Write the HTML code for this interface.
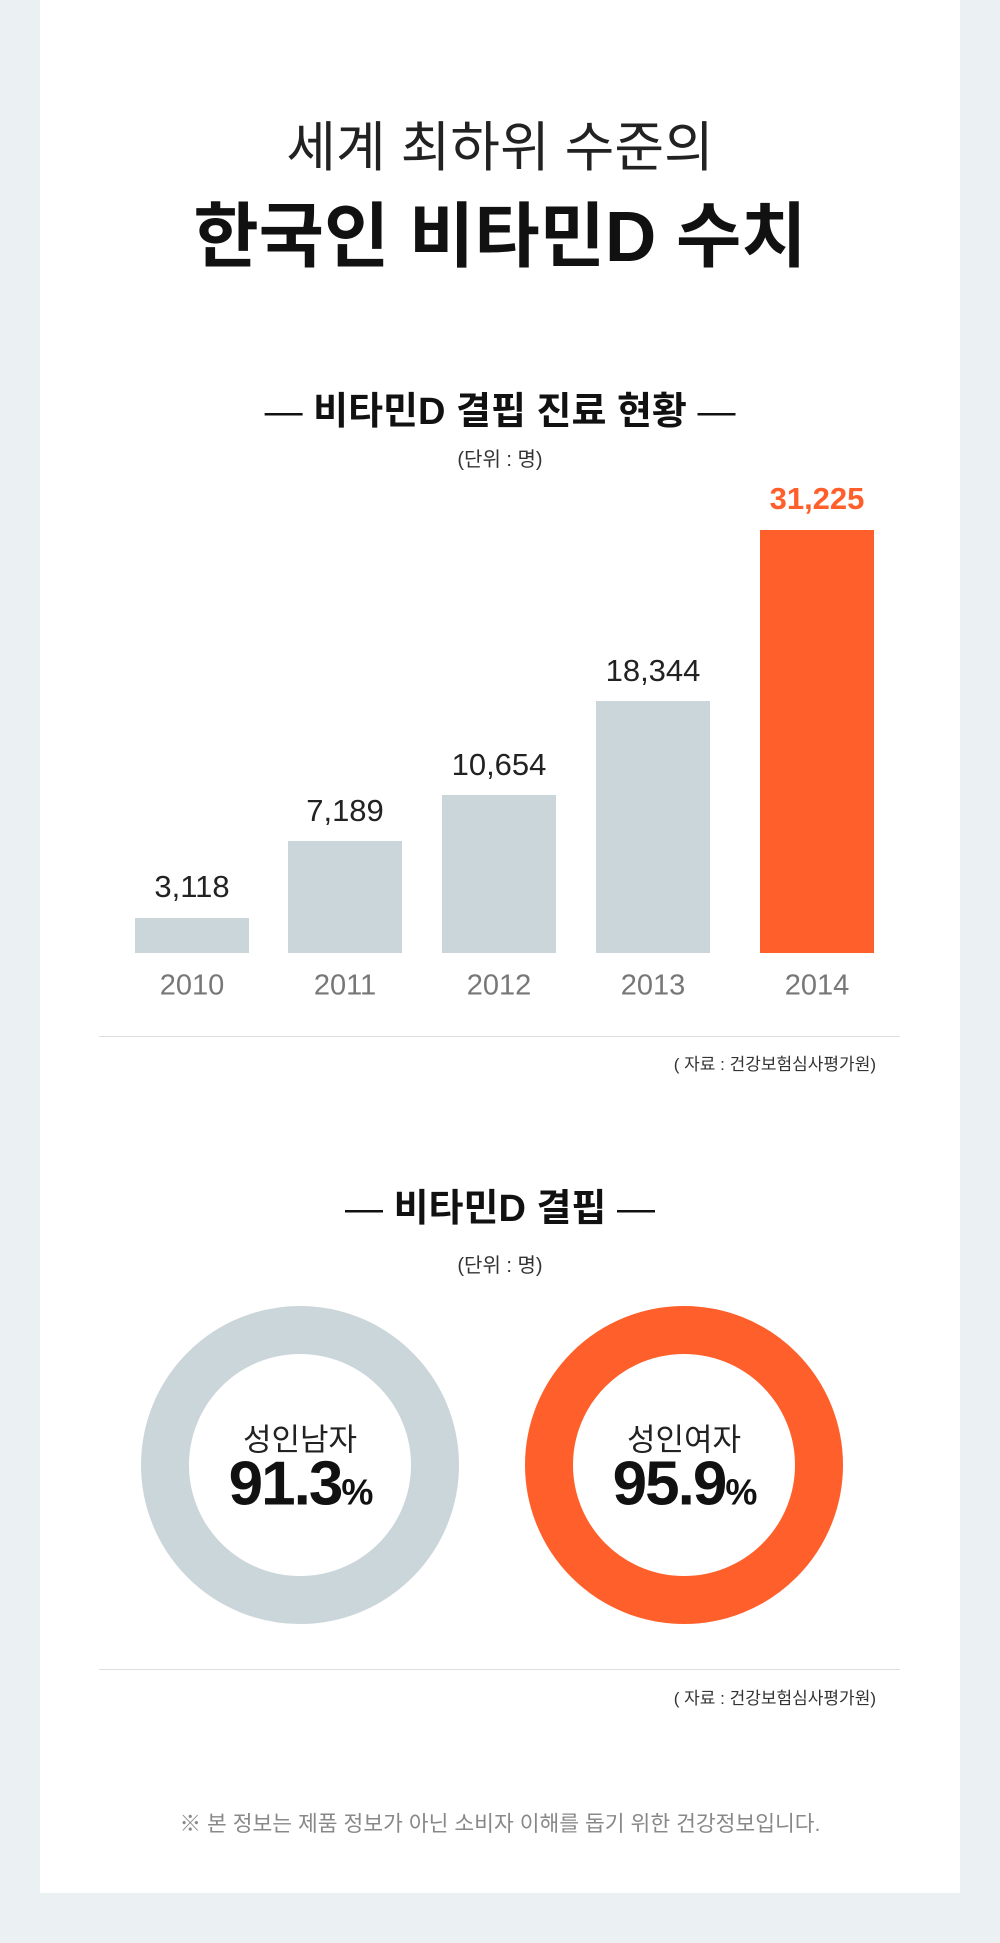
<!DOCTYPE html>
<html><head><meta charset="utf-8"><style>
*{margin:0;padding:0;box-sizing:border-box}
body{width:1000px;height:1943px;background:#ebf0f3;position:relative;overflow:hidden;font-family:"Liberation Sans","Noto Sans CJK KR",sans-serif}
.card{position:absolute;left:40px;top:0;width:920px;height:1893px;background:#fff}
.t{position:absolute;left:0;width:1000px;text-align:center;white-space:nowrap}
.a{position:absolute;white-space:nowrap;transform:translate(-50%,-50%)}
.bar{position:absolute;background:#cbd6da}
.line{position:absolute;left:99px;width:801px;height:1px;background:#ddd}
.src{position:absolute;right:124px;font-size:17px;color:#333}
.d{font-weight:normal}
</style></head><body>
<div class="card"></div>
<div class="t" style="top:116px;font-size:54px;color:#222;line-height:64px">세계 최하위 수준의</div>
<div class="t" style="top:198px;font-size:71px;font-weight:bold;color:#111;line-height:80px">한국인 비타민D 수치</div>
<div class="t" style="top:389px;font-size:38px;font-weight:bold;color:#111;line-height:46px"><span class="d">—</span> 비타민D 결핍 진료 현황 <span class="d">—</span></div>
<div class="t" style="top:443px;font-size:20px;color:#333">(단위 : 명)</div>

<div class="bar" style="left:135px;width:114px;top:918px;height:35px"></div>
<div class="bar" style="left:288px;width:114px;top:841px;height:112px"></div>
<div class="bar" style="left:442px;width:114px;top:795px;height:158px"></div>
<div class="bar" style="left:596px;width:114px;top:701px;height:252px"></div>
<div class="bar" style="left:760px;width:114px;top:530px;height:423px;background:#ff5f2a"></div>

<div class="a" style="left:192px;top:887px;font-size:31px;color:#222">3,118</div>
<div class="a" style="left:345px;top:811px;font-size:31px;color:#222">7,189</div>
<div class="a" style="left:499px;top:765px;font-size:31px;color:#222">10,654</div>
<div class="a" style="left:653px;top:671px;font-size:31px;color:#222">18,344</div>
<div class="a" style="left:817px;top:499px;font-size:31px;color:#ff5f2a;font-weight:bold">31,225</div>

<div class="a" style="left:192px;top:986px;font-size:29px;color:#777">2010</div>
<div class="a" style="left:345px;top:986px;font-size:29px;color:#777">2011</div>
<div class="a" style="left:499px;top:986px;font-size:29px;color:#777">2012</div>
<div class="a" style="left:653px;top:986px;font-size:29px;color:#777">2013</div>
<div class="a" style="left:817px;top:986px;font-size:29px;color:#777">2014</div>

<div class="line" style="top:1036px"></div>
<div class="src" style="top:1050px">( 자료 : 건강보험심사평가원)</div>

<div class="t" style="top:1186px;font-size:38px;font-weight:bold;color:#111;line-height:46px"><span class="d">—</span> 비타민D 결핍 <span class="d">—</span></div>
<div class="t" style="top:1249px;font-size:20px;color:#333">(단위 : 명)</div>

<svg style="position:absolute;left:0;top:0" width="1000" height="1943">
<circle cx="300" cy="1465" r="135" fill="none" stroke="#cbd6da" stroke-width="48"/>
<circle cx="684" cy="1465" r="135" fill="none" stroke="#ff5f2a" stroke-width="48"/>
</svg>
<div class="a" style="left:300px;top:1437px;font-size:31px;color:#222">성인남자</div>
<div class="a" style="left:300px;top:1484px;font-size:62px;font-weight:bold;color:#111;letter-spacing:-2px">91.3<span style="font-size:36px">%</span></div>
<div class="a" style="left:684px;top:1437px;font-size:31px;color:#222">성인여자</div>
<div class="a" style="left:684px;top:1484px;font-size:62px;font-weight:bold;color:#111;letter-spacing:-2px">95.9<span style="font-size:36px">%</span></div>

<div class="line" style="top:1669px"></div>
<div class="src" style="top:1684px">( 자료 : 건강보험심사평가원)</div>
<div class="t" style="top:1807px;font-size:21.5px;color:#888">※ 본 정보는 제품 정보가 아닌 소비자 이해를 돕기 위한 건강정보입니다.</div>
</body></html>
